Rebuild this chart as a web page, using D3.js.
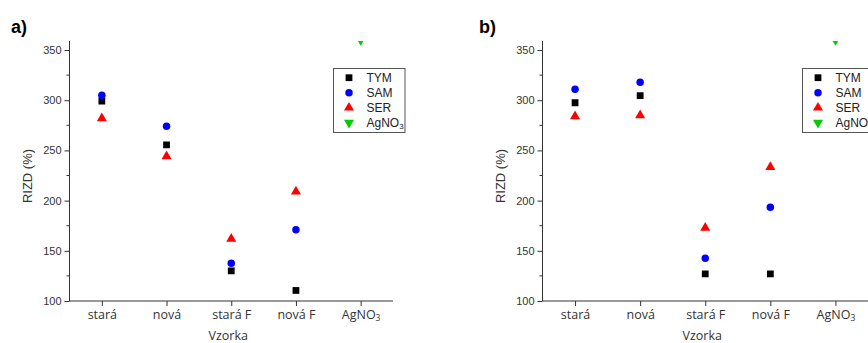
<!DOCTYPE html>
<html><head><meta charset="utf-8">
<script src="https://cdn.jsdelivr.net/npm/d3@7"></script>
<style>body{margin:0;background:#fff}svg{display:block}</style>
</head><body>
<svg id="c" width="868" height="343"></svg>
<script>
const categories = ["stará", "nová", "stará F", "nová F", "AgNO3"];
const yTicks = [100, 150, 200, 250, 300, 350];
const yMinorTicks = [125, 175, 225, 275, 325];
const seriesNames = ["TYM", "SAM", "SER", "AgNO3"];
const seriesColors = ["#000000", "#0000ff", "#ff0000", "#00cc00"];

const tymA = [299, 255.5, 130, 110.5, null];
const samA = [305, 274, 137.5, 171, null];
const serA = [282, 244, 162, 209, null];
const agA  = [null, null, null, null, 360];

const tymB = [297.5, 304.5, 127, 127, null];
const samB = [311, 318, 142.5, 193.5, null];
const serB = [284, 285, 173, 233.5, null];
const agB  = [null, null, null, null, 360];

const svg = d3.select("#c");
const AX = "#333";

function labelWithSub(sel, text, subSize) {
  if (text.endsWith("NO3")) {
    sel.text(null);
    sel.append("tspan").text(text.slice(0, -1));
    sel.append("tspan").attr("baseline-shift", "-25%").attr("font-size", subSize).text("3");
  } else sel.text(text);
}

function symbolFor(i) {
  const s = [d3.symbolSquare, d3.symbolCircle, d3.symbolTriangle, d3.symbolTriangle][i];
  const size = [46, 44, 44, 44][i];
  return d3.symbol().type(s).size(size)();
}

function panel(opt) {
  const {id, letter, letterX, x0, x1, series, legendX, legendW} = opt;
  const g = svg.append("g");
  const x = d3.scaleLinear().domain([0.5, 5.5]).range([x0, x1]);
  const y = d3.scaleLinear().domain([100, 359]).range([301, 41]);

  g.append("text").attr("x", letterX).attr("y", 33)
    .attr("font-family", "Liberation Sans, Arial, sans-serif")
    .attr("font-weight", "bold").attr("font-size", 18).attr("fill", "#000").text(letter);

  // y axis
  const ya = g.append("g").attr("transform", `translate(${x0},0)`)
    .call(d3.axisLeft(y).tickValues(yTicks).tickSize(5).tickPadding(3).tickSizeOuter(0));
  ya.select(".domain").remove();
  ya.selectAll(".tick line").attr("stroke", AX);
  ya.selectAll(".tick text").attr("font-family", "Liberation Sans, Arial, sans-serif")
    .attr("font-size", 11).attr("fill", "#333");
  g.append("g").selectAll("line").data(yMinorTicks).join("line")
    .attr("x1", x0 - 3).attr("x2", x0).attr("y1", d => y(d)).attr("y2", d => y(d)).attr("stroke", AX);
  g.append("line").attr("x1", x0).attr("x2", x0).attr("y1", 41).attr("y2", 301).attr("stroke", AX);

  // x axis
  const xa = g.append("g").attr("transform", "translate(0,301)")
    .call(d3.axisBottom(x).tickValues([1, 2, 3, 4, 5]).tickSize(5).tickPadding(4).tickFormat((d) => categories[d - 1]));
  xa.select(".domain").remove();
  xa.selectAll(".tick line").attr("stroke", AX);
  xa.selectAll(".tick text").attr("font-family", "Open Sans, sans-serif")
    .attr("font-size", 12.5).attr("fill", "#333").attr("dy", "0.75em")
    .each(function (d) { labelWithSub(d3.select(this), categories[d - 1], 8.5); });
  g.append("line").attr("x1", x0).attr("x2", x1).attr("y1", 301).attr("y2", 301).attr("stroke", AX);

  g.append("text").attr("x", (x0 + x1) / 2 - 3).attr("y", 339.5)
    .attr("text-anchor", "middle").attr("font-family", "Open Sans, sans-serif")
    .attr("font-size", 12.5).attr("fill", "#333").text("Vzorka");
  g.append("text").attr("transform", `translate(${x0 - 38},176) rotate(-90)`)
    .attr("text-anchor", "middle").attr("font-family", "Liberation Sans, Arial, sans-serif")
    .attr("font-size", 13).attr("fill", "#333").text("RIZD (%)");

  // clip
  svg.append("clipPath").attr("id", "clip" + id).append("rect")
    .attr("x", x0).attr("y", 41).attr("width", x1 - x0).attr("height", 262);
  const pts = g.append("g").attr("clip-path", `url(#clip${id})`);
  series.forEach((vals, si) => {
    pts.selectAll(null).data(vals.map((v, i) => ({v, i})).filter(d => d.v != null)).join("path")
      .attr("d", symbolFor(si))
      .attr("transform", d => `translate(${x(d.i + 1)},${y(d.v)})${si === 3 ? " rotate(180)" : ""}`)
      .attr("fill", seriesColors[si]);
  });

  // legend
  const lg = g.append("g");
  lg.append("rect").attr("x", legendX).attr("y", 68.5).attr("width", legendW).attr("height", 64)
    .attr("fill", "#fff").attr("stroke", "#555").attr("stroke-width", 1);
  seriesNames.forEach((n, i) => {
    const yy = 77.7 + i * 15;
    lg.append("path").attr("d", symbolFor(i))
      .attr("transform", `translate(${legendX + 15.5},${yy})${i === 3 ? " rotate(180)" : ""}`)
      .attr("fill", seriesColors[i]);
    const t = lg.append("text").attr("x", legendX + 33).attr("y", yy + 4.2)
      .attr("font-family", "Liberation Sans, Arial, sans-serif").attr("font-size", 12).attr("fill", "#222");
    labelWithSub(t, n, 8);
  });
}

panel({id: "a", letter: "a)", letterX: 11, x0: 69.5, x1: 393,
  series: [tymA, samA, serA, agA], legendX: 333.5, legendW: 71.5});
panel({id: "b", letter: "b)", letterX: 479, x0: 542.5, x1: 868,
  series: [tymB, samB, serB, agB], legendX: 802.5, legendW: 80});
</script>
</body></html>
